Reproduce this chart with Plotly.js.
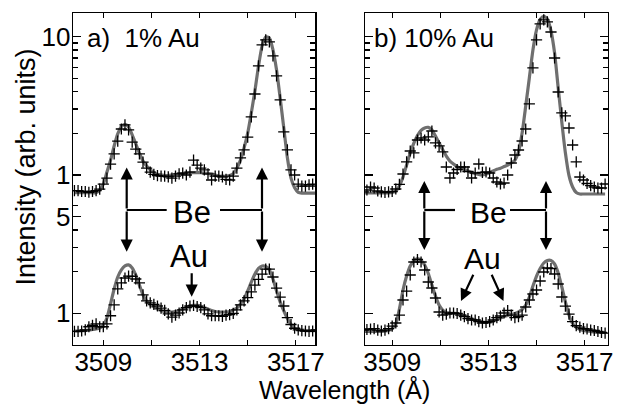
<!DOCTYPE html>
<html>
<head>
<meta charset="utf-8">
<script src="https://cdn.plot.ly/plotly-3.0.1.min.js"></script>
<style>html,body{margin:0;padding:0;background:#fff;}#chart{width:627px;height:404px;}</style>
</head>
<body>
<div id="chart"></div>
<script>
// Wavelength grid (Angstrom)
const wavelength = [3507.80,3507.95,3508.10,3508.25,3508.40,3508.55,3508.70,3508.85,3509.00,3509.15,
3509.30,3509.45,3509.60,3509.75,3509.90,3510.05,3510.20,3510.35,3510.50,3510.65,
3510.80,3510.95,3511.10,3511.25,3511.40,3511.55,3511.70,3511.85,3512.00,3512.15,
3512.30,3512.45,3512.60,3512.75,3512.90,3513.05,3513.20,3513.35,3513.50,3513.65,
3513.80,3513.95,3514.10,3514.25,3514.40,3514.55,3514.70,3514.85,3515.00,3515.15,
3515.30,3515.45,3515.60,3515.75,3515.90,3516.05,3516.20,3516.35,3516.50,3516.65,
3516.80,3516.95,3517.10,3517.25,3517.40,3517.55,3517.70,3517.85];

// Panel a) 1% Au — upper spectrum (shown one decade higher) measured / fit
const a_upper_meas = [0.77,0.77,0.76,0.76,0.75,0.76,0.77,0.79,0.86,0.95,
1.20,1.42,1.76,2.15,2.30,2.12,1.73,1.54,1.42,1.24,
1.12,1.05,1.01,0.99,0.98,0.98,0.97,0.95,0.98,1.02,
1.03,1.00,1.05,1.28,1.18,1.12,1.09,1.02,0.92,0.98,
0.98,0.97,0.93,0.92,0.98,1.12,1.33,1.52,1.88,2.63,
3.85,6.14,8.71,9.47,9.16,7.25,5.20,3.49,2.05,1.52,
1.09,1.00,0.86,0.83,0.83,0.85,0.86,0.83];
const a_upper_fit = [0.744,0.744,0.744,0.744,0.744,0.744,0.744,0.78,0.86,1.05,
1.28,1.62,1.98,2.24,2.32,2.22,1.95,1.68,1.44,1.26,
1.16,1.09,1.04,1.01,1.00,0.99,0.99,1.00,1.01,1.02,
1.025,1.03,1.04,1.04,1.04,1.04,1.03,1.025,1.02,1.00,
0.98,0.98,0.98,0.99,1.02,1.12,1.28,1.57,2.01,2.81,
4.05,6.14,8.57,9.95,9.78,8.03,5.74,3.60,2.19,1.33,
0.95,0.81,0.75,0.74,0.74,0.74,0.74,0.74];
// Panel a) lower spectrum measured / fit
const a_lower_meas = [0.74,0.74,0.745,0.76,0.80,0.82,0.84,0.80,0.80,0.84,
0.96,1.15,1.50,1.66,1.80,1.86,1.85,1.77,1.66,1.36,
1.23,1.19,1.16,1.13,1.09,1.05,0.99,0.94,0.97,1.005,
1.06,1.10,1.13,1.14,1.12,1.10,1.06,0.99,0.96,0.96,
0.96,0.95,0.97,0.98,1.00,1.06,1.15,1.23,1.30,1.43,
1.60,1.76,1.92,2.09,2.09,1.83,1.52,1.31,1.13,0.93,
0.83,0.78,0.76,0.75,0.745,0.74,0.745,0.76];
const a_lower_fit = [0.745,0.745,0.75,0.75,0.757,0.764,0.77,0.783,0.823,0.925,
1.17,1.50,1.83,2.06,2.20,2.24,2.13,1.89,1.60,1.36,
1.23,1.15,1.11,1.074,1.048,1.03,1.022,1.022,1.03,1.048,
1.074,1.10,1.13,1.14,1.14,1.13,1.10,1.074,1.048,1.03,
1.022,1.022,1.022,1.03,1.056,1.092,1.17,1.27,1.45,1.68,
1.92,2.11,2.20,2.18,2.06,1.77,1.45,1.21,1.04,0.917,
0.83,0.783,0.764,0.757,0.75,0.75,0.75,0.75];

// Panel b) 10% Au — upper spectrum measured / fit
const b_upper_meas = [0.754,0.779,0.819,0.805,0.766,0.754,0.747,0.754,0.760,0.792,
0.854,1.017,1.242,1.491,1.443,1.791,1.851,1.791,1.883,2.080,
1.704,1.621,1.467,1.142,0.951,1.034,1.096,1.142,1.142,1.060,
0.951,1.034,1.201,1.043,1.051,1.034,0.951,0.890,0.861,0.875,
1.0,1.221,1.395,1.516,1.761,2.150,3.262,5.94,9.47,12.36,
13.21,12.77,10.81,7.01,3.98,2.808,2.671,2.187,1.648,1.242,
0.967,0.920,0.868,0.839,0.819,0.805,0.805,0.861];
const b_upper_fit = [0.741,0.741,0.741,0.741,0.741,0.741,0.741,0.741,0.747,0.766,
0.833,0.967,1.18,1.44,1.70,1.93,2.10,2.19,2.21,2.12,
1.91,1.70,1.52,1.37,1.26,1.20,1.15,1.12,1.10,1.07,
1.043,1.025,1.008,1.00,1.017,1.043,1.07,1.10,1.12,1.15,
1.18,1.22,1.28,1.47,2.01,3.15,5.03,8.01,11.18,13.3,
14.0,13.43,11.0,7.62,4.26,2.41,1.44,0.99,0.819,0.747,
0.729,0.729,0.729,0.729,0.729,0.729,0.729,0.729];
// Panel b) lower spectrum measured / fit
const b_lower_meas = [0.757,0.764,0.770,0.776,0.757,0.745,0.757,0.776,0.809,0.851,
0.972,1.248,1.449,1.892,2.349,2.449,2.349,2.056,1.684,1.524,
1.290,1.022,0.972,0.988,1.005,1.005,0.997,0.972,0.948,0.917,
0.895,0.895,0.872,0.851,0.858,0.872,0.895,0.932,0.956,1.005,
1.048,0.972,0.932,0.948,0.972,1.111,1.248,1.379,1.474,1.712,
1.989,2.126,2.109,1.924,1.629,1.312,1.129,0.988,0.872,0.816,
0.796,0.776,0.770,0.757,0.751,0.739,0.727,0.720];
const b_lower_fit = [0.739,0.739,0.739,0.739,0.739,0.739,0.745,0.751,0.776,0.837,
1.074,1.474,1.860,2.198,2.389,2.490,2.409,2.235,1.940,1.602,
1.334,1.148,1.056,1.013,1.005,1.0,0.997,0.980,0.964,0.940,
0.917,0.895,0.880,0.865,0.858,0.865,0.880,0.902,0.925,0.948,
0.964,0.980,0.997,1.022,1.065,1.148,1.312,1.575,1.860,2.109,
2.311,2.409,2.409,2.273,1.956,1.550,1.207,0.972,0.844,0.789,
0.764,0.751,0.745,0.739,0.732,0.732,0.727,0.727];

// Tick labels
const xTickVals = [3509, 3511, 3513, 3515, 3517];
const xTickText = ['3509', '', '3513', '', '3517'];
const lowerTickVals = [1, 5];
const lowerTickText = ['1', '5'];
const lowerMinor = [2, 3, 4, 6];
const upperTickVals = [1, 10];
const upperTickText = ['1', '10'];
const upperMinor = [2, 3, 4, 5, 6, 7, 8, 9];

const FIT_COLOR = '#6f6f6f';
function fitTrace(y, xa, ya) {
  return {x: wavelength, y: y, xaxis: xa, yaxis: ya, type: 'scatter', mode: 'lines',
    line: {color: FIT_COLOR, width: 3.2, shape: 'spline', smoothing: 0.6}, hoverinfo: 'skip'};
}
function measTrace(y, xa, ya) {
  return {x: wavelength, y: y, xaxis: xa, yaxis: ya, type: 'scatter', mode: 'markers',
    marker: {symbol: 'cross-thin', size: 8, color: 'black', line: {width: 1.3, color: 'black'}}, hoverinfo: 'skip'};
}

const data = [
  fitTrace(a_lower_fit, 'x', 'y'), measTrace(a_lower_meas, 'x', 'y'),
  fitTrace(a_upper_fit, 'x', 'y2'), measTrace(a_upper_meas, 'x', 'y2'),
  fitTrace(b_lower_fit, 'x2', 'y3'), measTrace(b_lower_meas, 'x2', 'y3'),
  fitTrace(b_upper_fit, 'x2', 'y4'), measTrace(b_upper_meas, 'x2', 'y4')
];

const L = 73, T = 13, W = 535, H = 332;
const px = v => (v - L) / W;
const py = v => (T + H - v) / H;

const common = {showline: true, linecolor: 'black', linewidth: 1.3, mirror: 'ticks', ticks: 'inside',
  tickcolor: 'black', tickwidth: 1.2, showgrid: false, zeroline: false, fixedrange: true};
function xAxis(domain, range, anchor) {
  return Object.assign({}, common, {domain: domain, range: range, anchor: anchor, tickmode: 'array',
    tickvals: xTickVals, ticktext: xTickText, ticklen: 5, tickfont: {size: 26}, ticklabelstandoff: -7});
}
function yAxis(anchor, range, vals, text, minor, showLabels, overlay) {
  const a = Object.assign({}, common, {type: 'log', anchor: anchor, range: range, tickmode: 'array',
    tickvals: vals, ticktext: text, ticklen: 8, showticklabels: showLabels, tickfont: {size: 26},
    ticklabelstandoff: -4,
    minor: {tickmode: 'array', tickvals: minor, ticklen: 5, ticks: 'inside', tickwidth: 1.2, tickcolor: 'black'}});
  if (overlay) { a.overlaying = overlay; a.side = 'left'; }
  return a;
}
const lowRange = [-0.229, 2.171];
const upRange = [-1.229, 1.171];

function arrow(hx, hy, tx, ty) {
  return {x: px(hx), y: py(hy), xref: 'paper', yref: 'paper', text: '', showarrow: true,
    arrowhead: 2, arrowsize: 1.1, arrowwidth: 2.2, arrowcolor: 'black', ax: tx - hx, ay: ty - hy,
    standoff: 0, startstandoff: 0};
}
function label(text, cx, cy, size, anchor) {
  return {x: px(cx), y: py(cy), xref: 'paper', yref: 'paper', text: text, showarrow: false,
    xanchor: anchor || 'center', yanchor: 'middle', font: {size: size, color: 'black'}};
}
function hline(x0, x1, y) {
  return {type: 'line', xref: 'paper', yref: 'paper', x0: px(x0), x1: px(x1), y0: py(y), y1: py(y),
    line: {color: 'black', width: 2.2}};
}

const layout = {
  width: 627, height: 404,
  margin: {l: L, r: 627 - L - W, t: T, b: 404 - T - H, pad: 0},
  paper_bgcolor: 'white', plot_bgcolor: 'white', showlegend: false,
  font: {family: '"Liberation Sans", Arial, Helvetica, sans-serif', color: 'black', size: 26},
  xaxis: xAxis([0, px(315.3)], [3507.74, 3517.81], 'y'),
  xaxis2: xAxis([px(365), 1], [3507.87, 3517.97], 'y3'),
  yaxis: yAxis('x', lowRange, lowerTickVals, lowerTickText, lowerMinor, true, null),
  yaxis2: yAxis('x', upRange, upperTickVals, upperTickText, upperMinor, true, 'y'),
  yaxis3: yAxis('x2', lowRange, lowerTickVals, lowerTickText, lowerMinor, false, null),
  yaxis4: yAxis('x2', upRange, upperTickVals, upperTickText, upperMinor, false, 'y3'),
  shapes: [
    hline(126.7, 166.7, 210), hline(220, 262, 210),
    hline(424.3, 455, 210), hline(510, 546, 210)
  ],
  annotations: [
    label('a)\u00a0 1% Au', 85, 38, 26, 'left'),
    label('b) 10% Au', 372, 38, 26, 'left'),
    label('Be', 191.7, 212, 31), label('Au', 189, 256, 31),
    label('Be', 488.3, 212, 30), label('Au', 482.5, 258, 30),
    arrow(126.7, 167.5, 126.7, 210), arrow(126.7, 251.7, 126.7, 210),
    arrow(262, 167.5, 262, 210), arrow(262, 251.7, 262, 210),
    arrow(191.7, 296.7, 191.7, 271.7),
    arrow(424.3, 181, 424.3, 210), arrow(424.3, 250, 424.3, 210),
    arrow(546, 181, 546, 210), arrow(546, 250, 546, 210),
    arrow(461, 301, 474, 273.3), arrow(503.5, 301, 491, 273.3),
    {x: px(344), y: py(389), xref: 'paper', yref: 'paper', text: 'Wavelength (Å)', showarrow: false,
      xanchor: 'center', yanchor: 'middle', font: {size: 25, color: 'black'}, borderpad: 0},
    {x: px(25), y: py(167.5), xref: 'paper', yref: 'paper', text: 'Intensity (arb. units)', showarrow: false,
      textangle: -90, xanchor: 'center', yanchor: 'middle', font: {size: 27, color: 'black'}}
  ]
};

Plotly.newPlot('chart', data, layout, {displayModeBar: false, staticPlot: true});
</script>
</body>
</html>
